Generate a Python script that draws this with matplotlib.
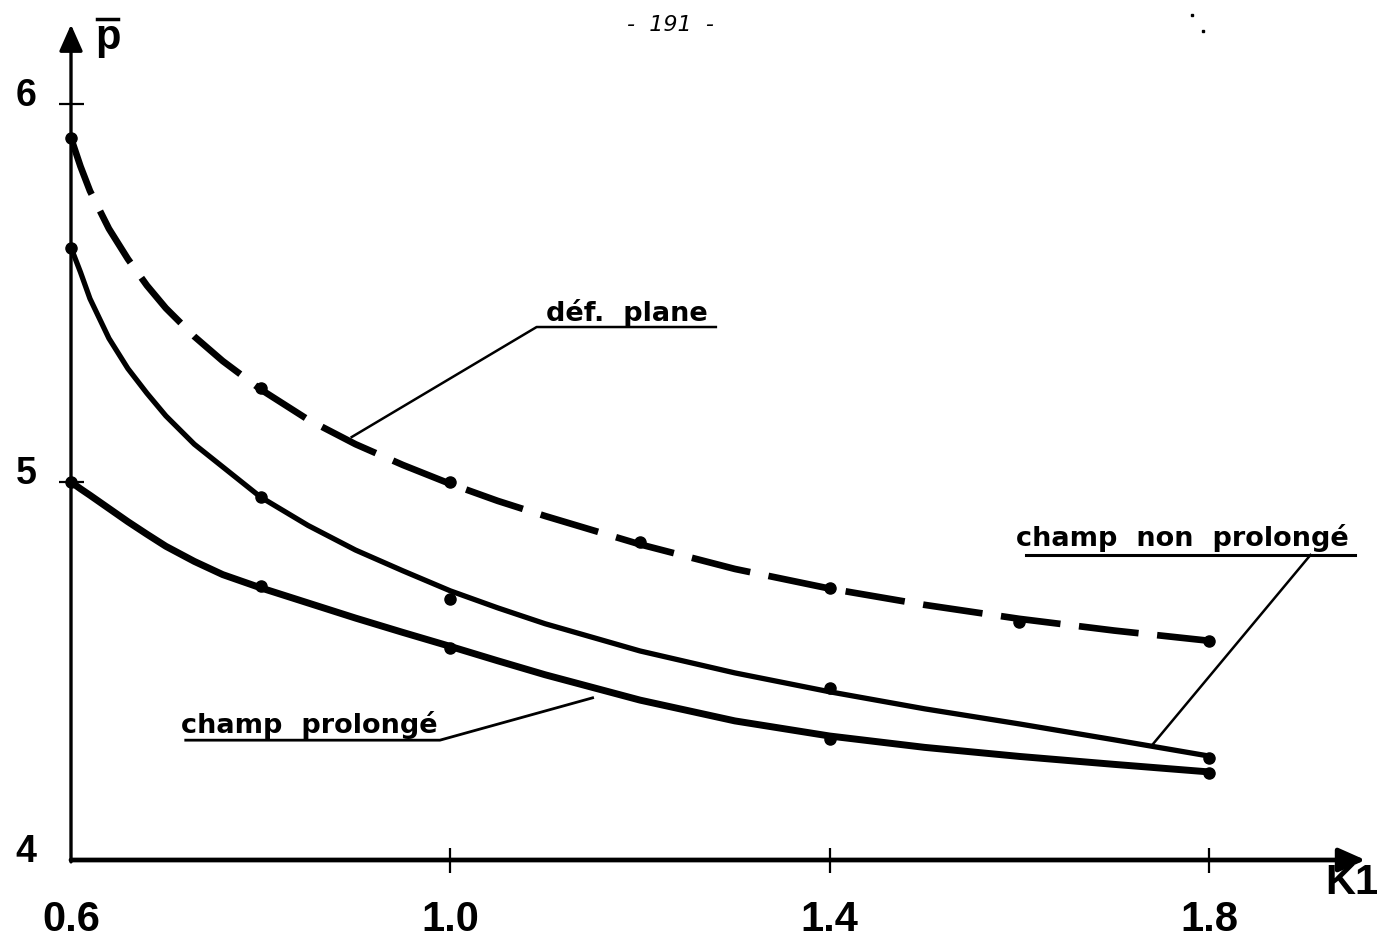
import matplotlib
matplotlib.use('Agg')
import matplotlib.pyplot as plt
from matplotlib.transforms import ScaledTranslation

# smooth curves
K1_CURVE = [0.60, 0.61, 0.62, 0.64, 0.66, 0.68, 0.70, 0.73, 0.76, 0.80, 0.85,
            0.90, 0.95, 1.00, 1.05, 1.10, 1.20, 1.30, 1.40, 1.50, 1.60, 1.70,
            1.80]
P_DEF_PLANE = [5.91, 5.835, 5.77, 5.67, 5.59, 5.52, 5.46, 5.385, 5.32, 5.245,
               5.165, 5.10, 5.045, 4.995, 4.95, 4.91, 4.835, 4.77, 4.718,
               4.675, 4.638, 4.607, 4.58]
P_NON_PROLONGE = [5.62, 5.555, 5.485, 5.38, 5.30, 5.235, 5.175, 5.10, 5.04,
                  4.96, 4.885, 4.82, 4.765, 4.712, 4.667, 4.625, 4.553, 4.495,
                  4.445, 4.40, 4.36, 4.318, 4.275]
P_PROLONGE = [5.00, 4.982, 4.965, 4.93, 4.895, 4.862, 4.83, 4.79, 4.755, 4.72,
              4.68, 4.64, 4.602, 4.565, 4.527, 4.49, 4.423, 4.368, 4.328,
              4.298, 4.274, 4.253, 4.233]

# computed points (dots)
K1_DEF_PTS = [0.6, 0.8, 1.0, 1.2, 1.4, 1.6, 1.8]
P_DEF_PTS = [5.91, 5.25, 5.00, 4.84, 4.72, 4.63, 4.58]
K1_PTS = [0.6, 0.8, 1.0, 1.4, 1.8]
P_NON_PTS = [5.62, 4.96, 4.69, 4.455, 4.27]
P_PRO_PTS = [5.00, 4.725, 4.56, 4.32, 4.23]

X_TICKS = [0.6, 1.0, 1.4, 1.8]
X_LABELS = ['0.6', '1.0', '1.4', '1.8']
Y_TICKS = [4, 5, 6]
Y_LABELS = ['4', '5', '6']

NUM_FONT = ['Liberation Sans', 'DejaVu Sans']

fig = plt.figure(figsize=(13.98, 9.43), dpi=100)
ax = fig.add_axes([71 / 1398, 83 / 943, 1138 / 1398, 756 / 943])
ax.set_xlim(0.6, 1.8)
ax.set_ylim(4, 6)
for s in ax.spines.values():
    s.set_visible(False)

# axes drawn as arrows
arrow_x = dict(arrowstyle='-|>,head_length=0.9,head_width=0.4', lw=3.4,
               color='black', mutation_scale=18, shrinkA=0, shrinkB=0)
arrow_y = dict(arrow_x, lw=2.4)
ax.annotate('', xy=(1.965, 4), xytext=(0.6, 4), arrowprops=arrow_x,
            annotation_clip=False)
ax.annotate('', xy=(0.6, 6.21), xytext=(0.6, 3.995), arrowprops=arrow_y,
            annotation_clip=False)

# curves
ax.plot(K1_CURVE, P_DEF_PLANE, color='black', lw=4.8,
        linestyle=(0, (9, 2.8)))
ax.plot(K1_CURVE, P_NON_PROLONGE, color='black', lw=3.8,
        solid_capstyle='round', solid_joinstyle='round')
ax.plot(K1_CURVE, P_PROLONGE, color='black', lw=5,
        solid_capstyle='round', solid_joinstyle='round')
ax.plot(K1_DEF_PTS, P_DEF_PTS, 'o', color='black', ms=8, clip_on=False)
ax.plot(K1_PTS, P_NON_PTS, 'o', color='black', ms=8, clip_on=False)
ax.plot(K1_PTS, P_PRO_PTS, 'o', color='black', ms=8, clip_on=False)

# ticks
ax.set_xticks(X_TICKS, X_LABELS, fontsize=30, fontweight='bold', family=NUM_FONT)
ax.set_yticks(Y_TICKS, Y_LABELS, fontsize=27, fontweight='bold', family=NUM_FONT)
ax.tick_params(axis='x', direction='inout', length=18, width=1.6, pad=20)
ax.tick_params(axis='y', direction='inout', length=18, width=1.6, pad=16)
ax.xaxis.get_major_ticks()[0].tick1line.set_visible(False)
ax.yaxis.get_major_ticks()[0].tick1line.set_visible(False)
up = ScaledTranslation(0, 0.12, fig.dpi_scale_trans)
for lbl in ax.get_yticklabels():
    lbl.set_transform(lbl.get_transform() + up)

# axis names
ax.text(0.639, 6.175, 'p', fontsize=30, fontweight='bold', family=NUM_FONT,
        ha='center', va='center', clip_on=False)
ax.plot([0.627, 0.65], [6.225, 6.225], color='black', lw=2.5, clip_on=False)
ax.text(1.951, 3.94, 'K1', fontsize=30, fontweight='bold', family=NUM_FONT,
        ha='center', va='center', clip_on=False)

# labelled leaders
lab = dict(fontsize=19.5, fontweight='bold', ha='center', va='baseline',
           clip_on=False)
ax.text(1.186, 5.426, 'déf.  plane', **lab)
ax.plot([0.896, 1.091, 1.280], [5.119, 5.410, 5.410], color='black', lw=1.8,
        clip_on=False)
ax.text(1.772, 4.831, 'champ  non  prolongé', **lab)
ax.plot([1.740, 1.907], [4.304, 4.807], color='black', lw=1.8, clip_on=False)
ax.plot([1.607, 1.954], [4.807, 4.807], color='black', lw=2.2, clip_on=False)
ax.text(0.851, 4.336, 'champ  prolongé', **lab)
ax.plot([1.150, 0.989, 0.721], [4.429, 4.317, 4.317], color='black', lw=2.0,
        clip_on=False)

# page number and specks of the scan
fig.text(670 / 1398, 1 - 25 / 943, '-  191  -', fontsize=16, style='italic',
         ha='center', va='center')
ax.plot([1.782, 1.794], [6.235, 6.193], 's', color='black', ms=2, clip_on=False)

fig.savefig('out.png', dpi=100)
